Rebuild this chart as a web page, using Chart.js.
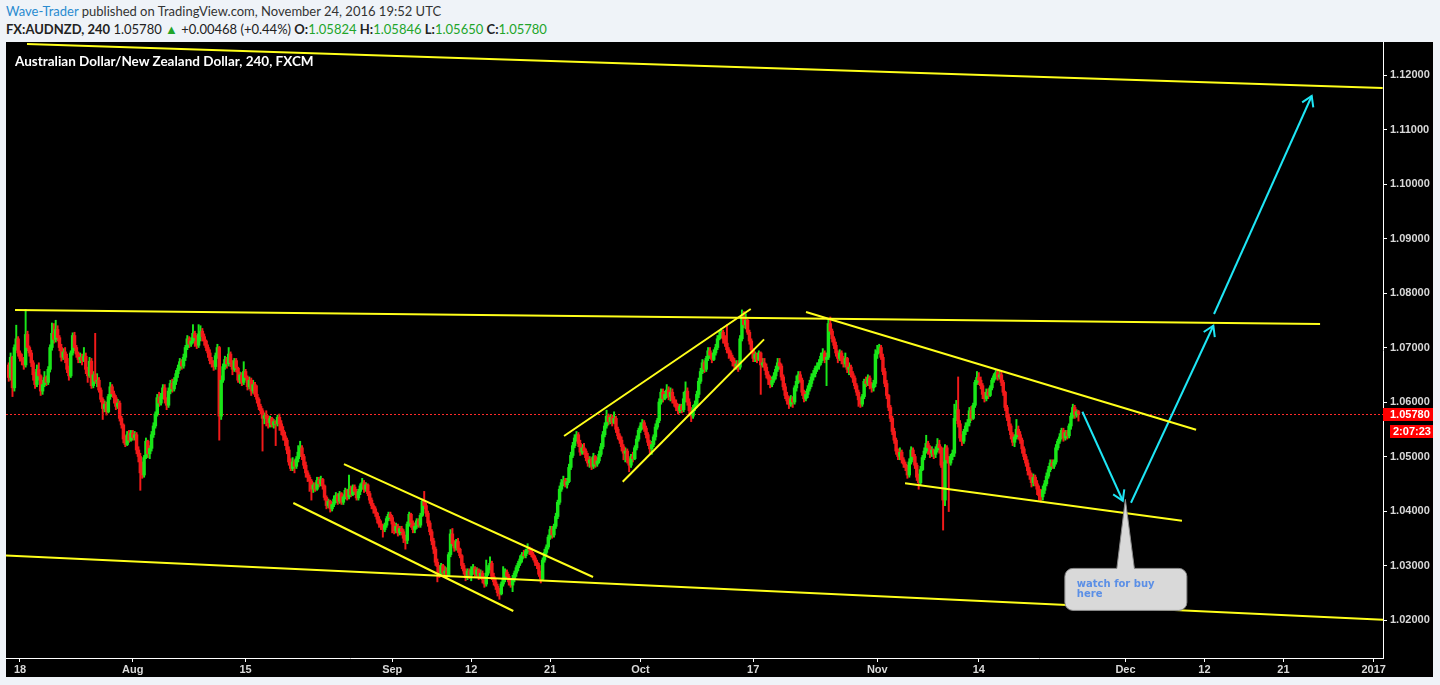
<!DOCTYPE html>
<html>
<head>
<meta charset="utf-8">
<title>FX:AUDNZD, 240</title>
<script src="https://cdn.jsdelivr.net/npm/chart.js@4.4.1/dist/chart.umd.min.js"></script>
<style>
  html, body { margin: 0; padding: 0; }
  body { width: 1440px; height: 685px; background: #eff3f8; position: relative; overflow: hidden; font-family: Lato, "Open Sans", sans-serif; }
  .pub { position: absolute; left: 6px; top: 3px; font-size: 13px; line-height: 16px; color: #333; white-space: nowrap; }
  .pub .author { color: #2a8bd0; }
  .sym { position: absolute; left: 6px; top: 21px; font-size: 13px; line-height: 16px; color: #222; white-space: nowrap; }
  .sym b { font-weight: 700; }
  .sym .up { color: #22a52a; }
  #chartBox { position: absolute; left: 6px; top: 42px; width: 1427px; height: 635px; background: #000; }
  .title { position: absolute; left: 15px; top: 53px; color: #fff; font-size: 13.5px; font-weight: 700; line-height: 16px; white-space: nowrap; }
</style>
</head>
<body>
<div class="pub"><span class="author">Wave-Trader</span> published on TradingView.com, November 24, 2016 19:52 UTC</div>
<div class="sym"><b>FX:AUDNZD, 240</b> 1.05780 <span class="up">&#9650;</span> +0.00468 (+0.44%) <b>O:</b><span class="up">1.05824</span> <b>H:</b><span class="up">1.05846</span> <b>L:</b><span class="up">1.05650</span> <b>C:</b><span class="up">1.05780</span></div>
<div id="chartBox"><canvas id="audnzd" width="1427" height="635"></canvas></div>
<div class="title">Australian Dollar/New Zealand Dollar, 240, FXCM</div>

<script>
// AUDNZD 4h candles, Jul 15 - Nov 24 2016.
// x is counted in trading days: 0 = Mon Jul 18, weekends skipped, 6 bars a day.

const firstOpen = 1.0668;
const firstDay = -1;
const barsPerDay = 6;

const closes = [
  1.0645, 1.0682, 1.0626, 1.0700, 1.0716, 1.0690, // Jul 15
  1.0680, 1.0676, 1.0668, 1.0724, 1.0700, 1.0690, // Jul 18
  1.0672, 1.0650, 1.0632, 1.0660, 1.0648, 1.0620,
  1.0632, 1.0645, 1.0636, 1.0660, 1.0700, 1.0726,
  1.0715, 1.0733, 1.0718, 1.0700, 1.0682, 1.0692,
  1.0680, 1.0660, 1.0648, 1.0690, 1.0722, 1.0700,
  1.0688, 1.0678, 1.0682, 1.0676, 1.0684, 1.0660, // Jul 25
  1.0648, 1.0675, 1.0630, 1.0650, 1.0638, 1.0640,
  1.0622, 1.0605, 1.0588, 1.0596, 1.0582, 1.0610,
  1.0628, 1.0615, 1.0608, 1.0592, 1.0598, 1.0570,
  1.0558, 1.0532, 1.0522, 1.0540, 1.0530, 1.0543,
  1.0535, 1.0540, 1.0512, 1.0500, 1.0470, 1.0466, // Aug 1
  1.0498, 1.0528, 1.0505, 1.0515, 1.0540, 1.0556,
  1.0578, 1.0608, 1.0598, 1.0610, 1.0626, 1.0605,
  1.0594, 1.0620, 1.0634, 1.0624, 1.0638, 1.0652,
  1.0662, 1.0674, 1.0666, 1.0682, 1.0700, 1.0716,
  1.0706, 1.0712, 1.0726, 1.0718, 1.0704, 1.0725, // Aug 8
  1.0730, 1.0720, 1.0712, 1.0700, 1.0690, 1.0676,
  1.0670, 1.0665, 1.0685, 1.0700, 1.0574, 1.0640,
  1.0665, 1.0678, 1.0670, 1.0688, 1.0672, 1.0660,
  1.0676, 1.0662, 1.0640, 1.0650, 1.0636, 1.0656,
  1.0645, 1.0628, 1.0640, 1.0620, 1.0632, 1.0614, // Aug 15
  1.0605, 1.0592, 1.0584, 1.0570, 1.0575, 1.0570,
  1.0562, 1.0570, 1.0558, 1.0564, 1.0560, 1.0572,
  1.0560, 1.0548, 1.0538, 1.0530, 1.0512, 1.0490,
  1.0478, 1.0490, 1.0482, 1.0496, 1.0508, 1.0516,
  1.0500, 1.0484, 1.0470, 1.0462, 1.0455, 1.0440, // Aug 22
  1.0448, 1.0440, 1.0456, 1.0450, 1.0458, 1.0446,
  1.0425, 1.0410, 1.0418, 1.0404, 1.0412, 1.0422,
  1.0428, 1.0418, 1.0432, 1.0416, 1.0426, 1.0438,
  1.0426, 1.0440, 1.0430, 1.0444, 1.0436, 1.0424,
  1.0436, 1.0446, 1.0452, 1.0440, 1.0448, 1.0432, // Aug 29
  1.0420, 1.0410, 1.0404, 1.0396, 1.0385, 1.0376,
  1.0372, 1.0366, 1.0374, 1.0386, 1.0394, 1.0388,
  1.0376, 1.0364, 1.0372, 1.0360, 1.0368, 1.0362,
  1.0350, 1.0346, 1.0376, 1.0394, 1.0378, 1.0366,
  1.0372, 1.0382, 1.0374, 1.0392, 1.0418, 1.0410, // Sep 5
  1.0396, 1.0378, 1.0362, 1.0345, 1.0330, 1.0306,
  1.0298, 1.0284, 1.0300, 1.0286, 1.0290, 1.0282,
  1.0320, 1.0358, 1.0340, 1.0332, 1.0344, 1.0330,
  1.0318, 1.0300, 1.0290, 1.0278, 1.0290, 1.0282,
  1.0292, 1.0296, 1.0284, 1.0292, 1.0280, 1.0286, // Sep 12
  1.0274, 1.0266, 1.0286, 1.0296, 1.0304, 1.0280,
  1.0270, 1.0262, 1.0250, 1.0248, 1.0266, 1.0276,
  1.0288, 1.0280, 1.0270, 1.0264, 1.0276, 1.0286,
  1.0296, 1.0304, 1.0312, 1.0320, 1.0318, 1.0326,
  1.0330, 1.0328, 1.0320, 1.0314, 1.0306, 1.0300, // Sep 19
  1.0284, 1.0275, 1.0310, 1.0324, 1.0334, 1.0352,
  1.0366, 1.0356, 1.0372, 1.0390, 1.0416, 1.0440,
  1.0452, 1.0456, 1.0448, 1.0454, 1.0480, 1.0502,
  1.0520, 1.0534, 1.0540, 1.0524, 1.0508, 1.0516,
  1.0510, 1.0498, 1.0488, 1.0494, 1.0482, 1.0500, // Sep 26
  1.0486, 1.0492, 1.0504, 1.0518, 1.0540, 1.0556,
  1.0574, 1.0564, 1.0572, 1.0562, 1.0570, 1.0550,
  1.0538, 1.0530, 1.0518, 1.0506, 1.0510, 1.0494,
  1.0484, 1.0500, 1.0496, 1.0516, 1.0532, 1.0548,
  1.0556, 1.0562, 1.0552, 1.0540, 1.0526, 1.0514, // Oct 3
  1.0522, 1.0536, 1.0554, 1.0566, 1.0600, 1.0618,
  1.0606, 1.0614, 1.0622, 1.0610, 1.0618, 1.0604,
  1.0598, 1.0590, 1.0584, 1.0592, 1.0586, 1.0606,
  1.0620, 1.0600, 1.0584, 1.0574, 1.0588, 1.0596,
  1.0614, 1.0638, 1.0656, 1.0672, 1.0660, 1.0680, // Oct 10
  1.0694, 1.0686, 1.0678, 1.0690, 1.0700, 1.0716,
  1.0722, 1.0728, 1.0716, 1.0708, 1.0696, 1.0690,
  1.0682, 1.0674, 1.0666, 1.0670, 1.0664, 1.0716,
  1.0756, 1.0742, 1.0750, 1.0728, 1.0712, 1.0696,
  1.0680, 1.0688, 1.0678, 1.0690, 1.0668, 1.0672, // Oct 17
  1.0664, 1.0650, 1.0642, 1.0632, 1.0640, 1.0648,
  1.0660, 1.0672, 1.0666, 1.0646, 1.0628, 1.0612,
  1.0602, 1.0596, 1.0606, 1.0600, 1.0626, 1.0638,
  1.0650, 1.0640, 1.0618, 1.0606, 1.0614, 1.0624,
  1.0634, 1.0646, 1.0652, 1.0662, 1.0666, 1.0672, // Oct 24
  1.0684, 1.0690, 1.0678, 1.0682, 1.0744, 1.0730,
  1.0716, 1.0704, 1.0690, 1.0680, 1.0690, 1.0676,
  1.0670, 1.0680, 1.0660, 1.0664, 1.0652, 1.0644,
  1.0630, 1.0618, 1.0604, 1.0596, 1.0610, 1.0638,
  1.0634, 1.0644, 1.0630, 1.0626, 1.0634, 1.0688, // Oct 31
  1.0694, 1.0700, 1.0682, 1.0656, 1.0634, 1.0612,
  1.0590, 1.0570, 1.0546, 1.0530, 1.0510, 1.0500,
  1.0508, 1.0494, 1.0486, 1.0480, 1.0466, 1.0490,
  1.0512, 1.0500, 1.0484, 1.0462, 1.0452, 1.0476,
  1.0498, 1.0510, 1.0524, 1.0516, 1.0506, 1.0512, // Nov 7
  1.0504, 1.0512, 1.0522, 1.0516, 1.0484, 1.0420,
  1.0516, 1.0494, 1.0488, 1.0500, 1.0506, 1.0570,
  1.0586, 1.0560, 1.0534, 1.0528, 1.0546, 1.0556,
  1.0562, 1.0584, 1.0570, 1.0594, 1.0636, 1.0645,
  1.0640, 1.0630, 1.0614, 1.0606, 1.0618, 1.0612, // Nov 14
  1.0626, 1.0640, 1.0648, 1.0654, 1.0646, 1.0650,
  1.0636, 1.0618, 1.0590, 1.0572, 1.0556, 1.0540,
  1.0526, 1.0536, 1.0550, 1.0540, 1.0530, 1.0514,
  1.0500, 1.0488, 1.0474, 1.0466, 1.0452, 1.0462,
  1.0450, 1.0440, 1.0428, 1.0426, 1.0438, 1.0450, // Nov 21
  1.0464, 1.0476, 1.0488, 1.0482, 1.0490, 1.0516,
  1.0528, 1.0536, 1.0548, 1.0534, 1.0544, 1.0538,
  1.0556, 1.0574, 1.0590, 1.0576, 1.05824, 1.05780
];

const highs = [
  1.0672, 1.0690, 1.0684, 1.0705, 1.0741, 1.0720,
  1.0694, 1.0688, 1.0682, 1.0770, 1.0730, 1.0703,
  1.0695, 1.0676, 1.0655, 1.0668, 1.0672, 1.0650,
  1.0640, 1.0656, 1.0648, 1.0665, 1.0705, 1.0745,
  1.0744, 1.0750, 1.0740, 1.0722, 1.0706, 1.0698,
  1.0700, 1.0688, 1.0666, 1.0694, 1.0727, 1.0728,
  1.0704, 1.0692, 1.0690, 1.0688, 1.0700, 1.0690,
  1.0664, 1.0682, 1.0680, 1.0656, 1.0726, 1.0652,
  1.0645, 1.0626, 1.0608, 1.0602, 1.0600, 1.0614,
  1.0636, 1.0632, 1.0620, 1.0612, 1.0605, 1.0602,
  1.0574, 1.0560, 1.0538, 1.0546, 1.0548, 1.0548,
  1.0548, 1.0546, 1.0544, 1.0518, 1.0506, 1.0490,
  1.0502, 1.0534, 1.0530, 1.0520, 1.0546, 1.0562,
  1.0582, 1.0614, 1.0618, 1.0616, 1.0632, 1.0632,
  1.0608, 1.0626, 1.0640, 1.0642, 1.0645, 1.0658,
  1.0668, 1.0680, 1.0678, 1.0688, 1.0704, 1.0722,
  1.0720, 1.0718, 1.0742, 1.0730, 1.0722, 1.0742,
  1.0740, 1.0735, 1.0725, 1.0714, 1.0705, 1.0696,
  1.0682, 1.0676, 1.0690, 1.0706, 1.0702, 1.0648,
  1.0670, 1.0684, 1.0682, 1.0700, 1.0692, 1.0676,
  1.0680, 1.0680, 1.0664, 1.0655, 1.0654, 1.0674,
  1.0660, 1.0648, 1.0646, 1.0644, 1.0640, 1.0636,
  1.0630, 1.0608, 1.0596, 1.0588, 1.0580, 1.0584,
  1.0575, 1.0574, 1.0572, 1.0568, 1.0566, 1.0576,
  1.0578, 1.0566, 1.0555, 1.0545, 1.0534, 1.0518,
  1.0496, 1.0498, 1.0494, 1.0500, 1.0520, 1.0528,
  1.0520, 1.0504, 1.0490, 1.0474, 1.0466, 1.0458,
  1.0452, 1.0452, 1.0462, 1.0462, 1.0464, 1.0460,
  1.0448, 1.0428, 1.0422, 1.0420, 1.0416, 1.0428,
  1.0434, 1.0432, 1.0436, 1.0434, 1.0430, 1.0442,
  1.0440, 1.0466, 1.0446, 1.0448, 1.0448, 1.0440,
  1.0440, 1.0450, 1.0460, 1.0456, 1.0452, 1.0450,
  1.0436, 1.0424, 1.0414, 1.0408, 1.0398, 1.0390,
  1.0382, 1.0376, 1.0378, 1.0390, 1.0398, 1.0398,
  1.0392, 1.0380, 1.0378, 1.0376, 1.0372, 1.0372,
  1.0366, 1.0356, 1.0380, 1.0398, 1.0396, 1.0382,
  1.0378, 1.0386, 1.0386, 1.0396, 1.0422, 1.0436,
  1.0414, 1.0400, 1.0382, 1.0366, 1.0350, 1.0334,
  1.0312, 1.0300, 1.0304, 1.0302, 1.0298, 1.0296,
  1.0324, 1.0366, 1.0368, 1.0346, 1.0348, 1.0350,
  1.0332, 1.0320, 1.0304, 1.0294, 1.0294, 1.0294,
  1.0298, 1.0302, 1.0298, 1.0296, 1.0294, 1.0292,
  1.0290, 1.0280, 1.0310, 1.0300, 1.0316, 1.0308,
  1.0286, 1.0276, 1.0266, 1.0258, 1.0270, 1.0298,
  1.0294, 1.0292, 1.0284, 1.0276, 1.0282, 1.0290,
  1.0300, 1.0308, 1.0318, 1.0324, 1.0328, 1.0330,
  1.0340, 1.0334, 1.0332, 1.0324, 1.0318, 1.0310,
  1.0304, 1.0290, 1.0314, 1.0330, 1.0338, 1.0356,
  1.0372, 1.0372, 1.0376, 1.0396, 1.0420, 1.0446,
  1.0458, 1.0464, 1.0460, 1.0460, 1.0486, 1.0508,
  1.0526, 1.0540, 1.0546, 1.0544, 1.0530, 1.0522,
  1.0524, 1.0514, 1.0506, 1.0500, 1.0498, 1.0506,
  1.0502, 1.0498, 1.0510, 1.0524, 1.0546, 1.0562,
  1.0585, 1.0578, 1.0576, 1.0576, 1.0582, 1.0574,
  1.0554, 1.0542, 1.0536, 1.0522, 1.0516, 1.0514,
  1.0496, 1.0504, 1.0508, 1.0520, 1.0538, 1.0552,
  1.0562, 1.0568, 1.0566, 1.0556, 1.0544, 1.0530,
  1.0528, 1.0540, 1.0560, 1.0570, 1.0606, 1.0624,
  1.0624, 1.0620, 1.0632, 1.0628, 1.0626, 1.0624,
  1.0610, 1.0604, 1.0596, 1.0596, 1.0596, 1.0618,
  1.0637, 1.0626, 1.0606, 1.0590, 1.0594, 1.0602,
  1.0620, 1.0644, 1.0662, 1.0678, 1.0676, 1.0684,
  1.0700, 1.0700, 1.0690, 1.0696, 1.0706, 1.0722,
  1.0730, 1.0735, 1.0732, 1.0722, 1.0742, 1.0700,
  1.0694, 1.0686, 1.0680, 1.0676, 1.0676, 1.0722,
  1.0769, 1.0766, 1.0762, 1.0752, 1.0732, 1.0716,
  1.0698, 1.0692, 1.0690, 1.0694, 1.0692, 1.0680,
  1.0680, 1.0670, 1.0656, 1.0648, 1.0646, 1.0654,
  1.0666, 1.0680, 1.0680, 1.0670, 1.0650, 1.0634,
  1.0618, 1.0610, 1.0612, 1.0610, 1.0630, 1.0648,
  1.0656, 1.0656, 1.0644, 1.0622, 1.0620, 1.0630,
  1.0640, 1.0652, 1.0658, 1.0666, 1.0672, 1.0678,
  1.0690, 1.0698, 1.0694, 1.0690, 1.0752, 1.0756,
  1.0734, 1.0720, 1.0710, 1.0694, 1.0696, 1.0694,
  1.0684, 1.0690, 1.0682, 1.0672, 1.0668, 1.0656,
  1.0648, 1.0634, 1.0622, 1.0608, 1.0614, 1.0642,
  1.0646, 1.0650, 1.0648, 1.0636, 1.0640, 1.0696,
  1.0704, 1.0706, 1.0704, 1.0688, 1.0662, 1.0640,
  1.0614, 1.0594, 1.0574, 1.0552, 1.0534, 1.0514,
  1.0516, 1.0512, 1.0498, 1.0490, 1.0484, 1.0496,
  1.0518, 1.0516, 1.0504, 1.0488, 1.0468, 1.0482,
  1.0502, 1.0516, 1.0539, 1.0528, 1.0520, 1.0518,
  1.0514, 1.0518, 1.0533, 1.0530, 1.0518, 1.0490,
  1.0522, 1.0520, 1.0500, 1.0504, 1.0512, 1.0596,
  1.0603, 1.0646, 1.0566, 1.0540, 1.0550, 1.0562,
  1.0568, 1.0590, 1.0592, 1.0598, 1.0640, 1.0656,
  1.0654, 1.0646, 1.0634, 1.0618, 1.0624, 1.0624,
  1.0630, 1.0644, 1.0652, 1.0658, 1.0658, 1.0656,
  1.0656, 1.0640, 1.0620, 1.0594, 1.0578, 1.0560,
  1.0544, 1.0540, 1.0568, 1.0556, 1.0546, 1.0534,
  1.0518, 1.0504, 1.0494, 1.0480, 1.0470, 1.0468,
  1.0466, 1.0456, 1.0446, 1.0440, 1.0446, 1.0456,
  1.0470, 1.0482, 1.0494, 1.0494, 1.0494, 1.0522,
  1.0532, 1.0542, 1.0552, 1.0552, 1.0548, 1.0548,
  1.0560, 1.0580, 1.0596, 1.0594, 1.0586, 1.05846
];

const lows = [
  1.0638, 1.0640, 1.0610, 1.0620, 1.0695, 1.0684,
  1.0675, 1.0668, 1.0660, 1.0664, 1.0694, 1.0684,
  1.0665, 1.0640, 1.0625, 1.0628, 1.0640, 1.0612,
  1.0614, 1.0628, 1.0630, 1.0632, 1.0655, 1.0695,
  1.0708, 1.0710, 1.0712, 1.0694, 1.0675, 1.0678,
  1.0672, 1.0654, 1.0640, 1.0645, 1.0686, 1.0694,
  1.0682, 1.0672, 1.0672, 1.0668, 1.0674, 1.0652,
  1.0636, 1.0645, 1.0625, 1.0626, 1.0634, 1.0628,
  1.0618, 1.0600, 1.0568, 1.0582, 1.0576, 1.0580,
  1.0605, 1.0610, 1.0598, 1.0586, 1.0588, 1.0565,
  1.0552, 1.0525, 1.0518, 1.0520, 1.0526, 1.0528,
  1.0530, 1.0530, 1.0505, 1.0490, 1.0438, 1.0460,
  1.0462, 1.0496, 1.0498, 1.0496, 1.0510, 1.0535,
  1.0552, 1.0574, 1.0592, 1.0594, 1.0606, 1.0598,
  1.0586, 1.0590, 1.0615, 1.0618, 1.0620, 1.0632,
  1.0645, 1.0658, 1.0660, 1.0662, 1.0676, 1.0696,
  1.0700, 1.0702, 1.0708, 1.0702, 1.0698, 1.0700,
  1.0712, 1.0712, 1.0704, 1.0694, 1.0682, 1.0670,
  1.0664, 1.0658, 1.0660, 1.0680, 1.0530, 1.0568,
  1.0636, 1.0660, 1.0662, 1.0666, 1.0665, 1.0650,
  1.0656, 1.0655, 1.0636, 1.0634, 1.0630, 1.0632,
  1.0640, 1.0622, 1.0624, 1.0612, 1.0616, 1.0610,
  1.0598, 1.0586, 1.0578, 1.0510, 1.0560, 1.0556,
  1.0552, 1.0554, 1.0554, 1.0552, 1.0520, 1.0556,
  1.0548, 1.0540, 1.0530, 1.0520, 1.0505, 1.0484,
  1.0474, 1.0474, 1.0470, 1.0478, 1.0490, 1.0500,
  1.0494, 1.0478, 1.0462, 1.0454, 1.0436, 1.0420,
  1.0434, 1.0436, 1.0438, 1.0444, 1.0446, 1.0440,
  1.0420, 1.0404, 1.0406, 1.0398, 1.0400, 1.0408,
  1.0415, 1.0412, 1.0414, 1.0412, 1.0412, 1.0422,
  1.0420, 1.0422, 1.0426, 1.0428, 1.0430, 1.0420,
  1.0420, 1.0430, 1.0440, 1.0434, 1.0436, 1.0428,
  1.0414, 1.0404, 1.0396, 1.0390, 1.0378, 1.0370,
  1.0366, 1.0352, 1.0362, 1.0370, 1.0382, 1.0382,
  1.0360, 1.0358, 1.0360, 1.0354, 1.0356, 1.0356,
  1.0342, 1.0330, 1.0340, 1.0372, 1.0370, 1.0360,
  1.0360, 1.0368, 1.0370, 1.0370, 1.0390, 1.0404,
  1.0390, 1.0372, 1.0356, 1.0338, 1.0322, 1.0300,
  1.0270, 1.0278, 1.0282, 1.0280, 1.0282, 1.0276,
  1.0280, 1.0316, 1.0336, 1.0326, 1.0328, 1.0324,
  1.0314, 1.0294, 1.0284, 1.0272, 1.0274, 1.0276,
  1.0272, 1.0284, 1.0280, 1.0280, 1.0274, 1.0276,
  1.0268, 1.0260, 1.0262, 1.0282, 1.0292, 1.0274,
  1.0264, 1.0256, 1.0244, 1.0238, 1.0246, 1.0262,
  1.0270, 1.0276, 1.0264, 1.0260, 1.0252, 1.0270,
  1.0280, 1.0290, 1.0300, 1.0306, 1.0314, 1.0314,
  1.0322, 1.0320, 1.0316, 1.0310, 1.0300, 1.0294,
  1.0280, 1.0268, 1.0272, 1.0306, 1.0320, 1.0330,
  1.0348, 1.0350, 1.0352, 1.0368, 1.0386, 1.0412,
  1.0436, 1.0446, 1.0444, 1.0442, 1.0452, 1.0476,
  1.0498, 1.0516, 1.0528, 1.0518, 1.0502, 1.0504,
  1.0504, 1.0492, 1.0482, 1.0480, 1.0476, 1.0478,
  1.0480, 1.0482, 1.0488, 1.0500, 1.0514, 1.0536,
  1.0552, 1.0558, 1.0560, 1.0556, 1.0560, 1.0544,
  1.0532, 1.0524, 1.0510, 1.0494, 1.0490, 1.0488,
  1.0472, 1.0480, 1.0490, 1.0494, 1.0512, 1.0528,
  1.0544, 1.0550, 1.0546, 1.0534, 1.0520, 1.0506,
  1.0504, 1.0518, 1.0530, 1.0550, 1.0562, 1.0596,
  1.0600, 1.0604, 1.0608, 1.0604, 1.0602, 1.0598,
  1.0592, 1.0584, 1.0578, 1.0580, 1.0580, 1.0582,
  1.0600, 1.0594, 1.0578, 1.0564, 1.0570, 1.0584,
  1.0590, 1.0608, 1.0634, 1.0652, 1.0654, 1.0656,
  1.0676, 1.0680, 1.0672, 1.0676, 1.0686, 1.0696,
  1.0714, 1.0718, 1.0708, 1.0702, 1.0690, 1.0680,
  1.0676, 1.0666, 1.0660, 1.0660, 1.0656, 1.0660,
  1.0712, 1.0736, 1.0734, 1.0724, 1.0706, 1.0690,
  1.0674, 1.0674, 1.0672, 1.0676, 1.0614, 1.0664,
  1.0658, 1.0644, 1.0632, 1.0626, 1.0628, 1.0636,
  1.0642, 1.0656, 1.0660, 1.0640, 1.0622, 1.0606,
  1.0596, 1.0588, 1.0592, 1.0590, 1.0596, 1.0620,
  1.0634, 1.0636, 1.0612, 1.0600, 1.0602, 1.0608,
  1.0620, 1.0628, 1.0640, 1.0646, 1.0656, 1.0660,
  1.0668, 1.0676, 1.0672, 1.0630, 1.0678, 1.0724,
  1.0710, 1.0698, 1.0684, 1.0672, 1.0676, 1.0670,
  1.0664, 1.0664, 1.0654, 1.0650, 1.0646, 1.0636,
  1.0624, 1.0612, 1.0592, 1.0590, 1.0592, 1.0606,
  1.0628, 1.0630, 1.0624, 1.0618, 1.0620, 1.0628,
  1.0680, 1.0690, 1.0678, 1.0650, 1.0628, 1.0606,
  1.0584, 1.0564, 1.0540, 1.0524, 1.0504, 1.0494,
  1.0494, 1.0488, 1.0480, 1.0474, 1.0460, 1.0462,
  1.0486, 1.0494, 1.0478, 1.0456, 1.0440, 1.0448,
  1.0474, 1.0494, 1.0506, 1.0504, 1.0498, 1.0500,
  1.0496, 1.0498, 1.0508, 1.0506, 1.0480, 1.0365,
  1.0410, 1.0488, 1.0399, 1.0484, 1.0494, 1.0500,
  1.0566, 1.0554, 1.0528, 1.0520, 1.0524, 1.0540,
  1.0546, 1.0556, 1.0566, 1.0568, 1.0590, 1.0632,
  1.0632, 1.0624, 1.0606, 1.0600, 1.0602, 1.0606,
  1.0610, 1.0622, 1.0636, 1.0642, 1.0640, 1.0642,
  1.0630, 1.0612, 1.0584, 1.0566, 1.0548, 1.0532,
  1.0520, 1.0518, 1.0532, 1.0532, 1.0524, 1.0506,
  1.0494, 1.0482, 1.0466, 1.0458, 1.0444, 1.0446,
  1.0446, 1.0430, 1.0420, 1.0416, 1.0420, 1.0432,
  1.0446, 1.0460, 1.0472, 1.0478, 1.0478, 1.0486,
  1.0512, 1.0524, 1.0532, 1.0528, 1.0530, 1.0532,
  1.0534, 1.0550, 1.0570, 1.0570, 1.0572, 1.05650
];

// axis ticks
const tickDays = [0, 10, 20, 33, 40, 47, 55, 65, 76, 85, 98, 105, 112, 120];
const tickLabels = ['18', 'Aug', '15', 'Sep', '12', '21', 'Oct', '17', 'Nov', '14', 'Dec', '12', '21', '2017'];
const priceTicks = [1.02, 1.03, 1.04, 1.05, 1.06, 1.07, 1.08, 1.09, 1.10, 1.11, 1.12];

// drawings: [trading day, price] end points
const trendLines = [
  [[0.62, 1.12569], [120.80, 1.11761]],
  [[-0.44, 1.07688], [115.25, 1.07431]],
  [[-1.24, 1.03185], [120.84, 1.02007]],
  [[28.72, 1.04862], [50.80, 1.02789]],
  [[24.23, 1.04147], [43.73, 1.02165]],
  [[48.23, 1.05376], [64.78, 1.07707]],
  [[53.43, 1.04538], [65.96, 1.07150]],
  [[69.68, 1.07653], [104.26, 1.05492]],
  [[78.46, 1.04508], [103.01, 1.03822]]
];
const arrows = [
  [[94.18, 1.05822], [97.76, 1.04189]],
  [[98.49, 1.04152], [105.79, 1.07400]],
  [[105.85, 1.07615], [114.51, 1.11615]]
];
const calloutTip = [97.99, 1.04213];
const calloutLines = ['watch for buy', 'here'];
const lastPrice = 1.05780;
const barCountdown = '2:07:23';

// view window (trading days / price) matching the snapshot
const X_MIN = -1.241, X_MAX = 120.83;
const Y_MIN = 1.01303, Y_MAX = 1.12606;

const GREEN = '#19e619';
const RED = '#f21a1a';
const YELLOW = '#ffff1a';
const CYAN = '#1ee6f5';
const AXIS_TEXT = '#d8d8d8';
const AXIS_FONT = { family: '"Liberation Sans", Arial, sans-serif', size: 11, weight: 'bold' };

const opens = closes.map((c, i) => (i === 0 ? firstOpen : closes[i - 1]));
const barX = closes.map((c, i) => firstDay + Math.floor(i / barsPerDay) + (i % barsPerDay) / barsPerDay);
const bodies = closes.map((c, i) => ({ x: barX[i], y: [opens[i], c] }));
const wicks = closes.map((c, i) => ({
  x: barX[i],
  y: [Math.min(lows[i], opens[i], c), Math.max(highs[i], opens[i], c)]
}));

function candleColor(ctx) {
  const i = ctx.dataIndex;
  return closes[i] >= opens[i] ? GREEN : RED;
}

function toPoints(seg) {
  return seg.map(p => ({ x: p[0], y: p[1] }));
}

// chart.js reserves half a label of room at the ends of each axis; the snapshot does not
function noEdgePadding(scale) {
  scale.paddingTop = 0;
  scale.paddingBottom = 0;
  scale.paddingLeft = 0;
  scale.paddingRight = 0;
}

const lineSets = trendLines.map(seg => ({
  type: 'line',
  data: toPoints(seg),
  borderColor: YELLOW,
  borderWidth: 2,
  pointRadius: 0,
  order: 0
}));

const arrowSets = arrows.map(seg => ({
  type: 'line',
  data: toPoints(seg),
  borderColor: CYAN,
  borderWidth: 2,
  pointRadius: 0,
  order: 0
}));

const decorPlugin = {
  id: 'decor',
  beforeDatasetsDraw(chart) {
    const { ctx, chartArea } = chart;
    const y = chart.scales.y.getPixelForValue(lastPrice);
    ctx.save();
    ctx.strokeStyle = '#ff2a2a';
    ctx.lineWidth = 1;
    ctx.setLineDash([2, 2]);
    ctx.beginPath();
    ctx.moveTo(chartArea.left, Math.round(y) + 0.5);
    ctx.lineTo(chartArea.right, Math.round(y) + 0.5);
    ctx.stroke();
    ctx.restore();
  },
  afterDatasetsDraw(chart) {
    const { ctx } = chart;
    const xs = chart.scales.x, ys = chart.scales.y;

    // arrow heads
    ctx.save();
    ctx.strokeStyle = CYAN;
    ctx.lineWidth = 2;
    arrows.forEach(seg => {
      const x0 = xs.getPixelForValue(seg[0][0]), y0 = ys.getPixelForValue(seg[0][1]);
      const x1 = xs.getPixelForValue(seg[1][0]), y1 = ys.getPixelForValue(seg[1][1]);
      const a = Math.atan2(y1 - y0, x1 - x0);
      const len = 11.5, spread = 0.56;
      ctx.beginPath();
      ctx.moveTo(x1 - len * Math.cos(a - spread), y1 - len * Math.sin(a - spread));
      ctx.lineTo(x1, y1);
      ctx.lineTo(x1 - len * Math.cos(a + spread), y1 - len * Math.sin(a + spread));
      ctx.stroke();
    });
    ctx.restore();

    // callout bubble
    const tx = xs.getPixelForValue(calloutTip[0]);
    const ty = ys.getPixelForValue(calloutTip[1]);
    const left = tx - 60.5, right = tx + 61.5, top = ty + 69, bottom = ty + 111, r = 8;
    ctx.save();
    ctx.beginPath();
    ctx.moveTo(tx - 8.5, top);
    ctx.lineTo(tx, ty);
    ctx.lineTo(tx + 9, top);
    ctx.lineTo(right - r, top);
    ctx.arcTo(right, top, right, top + r, r);
    ctx.lineTo(right, bottom - r);
    ctx.arcTo(right, bottom, right - r, bottom, r);
    ctx.lineTo(left + r, bottom);
    ctx.arcTo(left, bottom, left, bottom - r, r);
    ctx.lineTo(left, top + r);
    ctx.arcTo(left, top, left + r, top, r);
    ctx.closePath();
    ctx.fillStyle = '#d9d9d9';
    ctx.fill();
    ctx.strokeStyle = '#8a8a8a';
    ctx.lineWidth = 1;
    ctx.stroke();
    ctx.fillStyle = '#5b8fe6';
    ctx.font = 'bold 10px "DejaVu Sans", Verdana, sans-serif';
    ctx.textBaseline = 'middle';
    calloutLines.forEach((t, i) => ctx.fillText(t, tx - 48.5, ty + 85 + i * 10));
    ctx.restore();
  },
  afterDraw(chart) {
    const { ctx, chartArea, width } = chart;
    const y = Math.round(chart.scales.y.getPixelForValue(lastPrice));
    ctx.save();
    ctx.fillStyle = '#ff0000';
    ctx.fillRect(chartArea.right, y - 6, width - chartArea.right, 13);
    ctx.fillRect(chartArea.right + 7, y + 11, width - chartArea.right - 7, 13);
    ctx.fillStyle = '#ffffff';
    ctx.font = 'bold 11px "Liberation Sans", Arial, sans-serif';
    ctx.textBaseline = 'middle';
    ctx.fillText(lastPrice.toFixed(5), chartArea.right + 7, y + 0.5);
    ctx.fillText(barCountdown, chartArea.right + 10, y + 17.5);
    ctx.restore();
  }
};

new Chart(document.getElementById('audnzd'), {
  type: 'bar',
  data: {
    datasets: [
      ...lineSets,
      ...arrowSets,
      {
        data: bodies,
        backgroundColor: candleColor,
        borderWidth: 0,
        barThickness: 2.8,
        minBarLength: 1,
        grouped: false,
        order: 1
      },
      {
        data: wicks,
        backgroundColor: candleColor,
        borderWidth: 0,
        barThickness: 1.3,
        grouped: false,
        order: 2
      }
    ]
  },
  options: {
    responsive: false,
    devicePixelRatio: 1,
    animation: false,
    events: [],
    layout: { padding: 0 },
    plugins: {
      legend: { display: false },
      tooltip: { enabled: false },
      title: { display: false }
    },
    scales: {
      x: {
        type: 'linear',
        min: X_MIN,
        max: X_MAX,
        offset: false,
        grid: { drawOnChartArea: false, color: '#ffffff', tickLength: 4, offset: false },
        border: { color: '#ffffff', width: 1 },
        ticks: {
          color: AXIS_TEXT,
          font: AXIS_FONT,
          padding: 1,
          maxRotation: 0,
          autoSkip: false,
          callback: (v, i) => tickLabels[i]
        },
        afterBuildTicks: scale => { scale.ticks = tickDays.map(v => ({ value: v })); },
        afterFit: scale => { scale.height = 19; noEdgePadding(scale); }
      },
      y: {
        type: 'linear',
        position: 'right',
        min: Y_MIN,
        max: Y_MAX,
        grid: { drawOnChartArea: false, color: '#ffffff', tickLength: 4 },
        border: { color: '#ffffff', width: 1 },
        ticks: {
          color: AXIS_TEXT,
          font: AXIS_FONT,
          padding: 3,
          callback: v => v.toFixed(5)
        },
        afterBuildTicks: scale => { scale.ticks = priceTicks.map(v => ({ value: v })); },
        afterFit: scale => { scale.width = 50; noEdgePadding(scale); }
      }
    }
  },
  plugins: [decorPlugin]
});
</script>
</body>
</html>
